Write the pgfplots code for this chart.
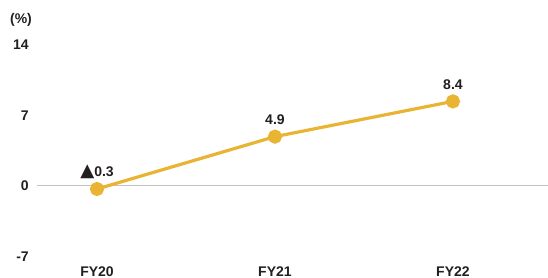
\documentclass[border=0pt]{standalone}
\usepackage{pgfplots}
\pgfplotsset{compat=1.18}
\usepackage{fontspec}
\setmainfont{Liberation Sans}
\newfontfamily\symfont[Scale=1.3]{DejaVu Sans}
\definecolor{gold}{RGB}{233,180,52}
\definecolor{zline}{RGB}{195,195,195}
\definecolor{txt}{RGB}{35,31,32}
\begin{document}
\begin{tikzpicture}
\begin{axis}[
  scale only axis,
  width=411pt, height=208.5pt,
  xmin=-0.545, xmax=2.534,
  ymin=-9.14, ymax=18.47,
  axis lines=none,
  clip=false,
  font=\bfseries\fontsize{10.5}{12}\selectfont,
]
% y tick labels
\pgfplotsinvokeforeach{-7,0,7,14}{
  \node[anchor=east, inner sep=0pt, text=txt] at (axis cs:-0.545,#1) [xshift=21.75pt] {#1};
}
\node[text=txt, inner sep=0pt] at (axis cs:-0.427,16.48) {(\%)};
% x labels
\node[anchor=south, inner sep=0pt, text=txt] at (axis cs:0,-9.14) [yshift=0.8pt] {FY20};
\node[anchor=south, inner sep=0pt, text=txt] at (axis cs:1,-9.14) [yshift=0.8pt] {FY21};
\node[anchor=south, inner sep=0pt, text=txt] at (axis cs:2,-9.14) [yshift=0.8pt] {FY22};
% zero line
\addplot[zline, line width=0.8pt] coordinates {(-0.337,0) (2.534,0)};
% data
\addplot[gold, line width=2.4pt, mark=*, mark size=4.1pt,
  mark options={solid, fill=gold, draw=none},
  nodes near coords, point meta=explicit symbolic,
  every node near coord/.style={anchor=center, yshift=12.6pt, text=txt, inner sep=0pt,
     font=\bfseries\fontsize{10.5}{12}\selectfont}]
  coordinates {(0,-0.3) [{\symfont\raisebox{-0.3pt}{▲}}0.3] (1,4.9) [4.9] (2,8.4) [8.4]};
\end{axis}
\pgfresetboundingbox
\path (current axis.south west) rectangle (current axis.north east);
\end{tikzpicture}
\end{document}
